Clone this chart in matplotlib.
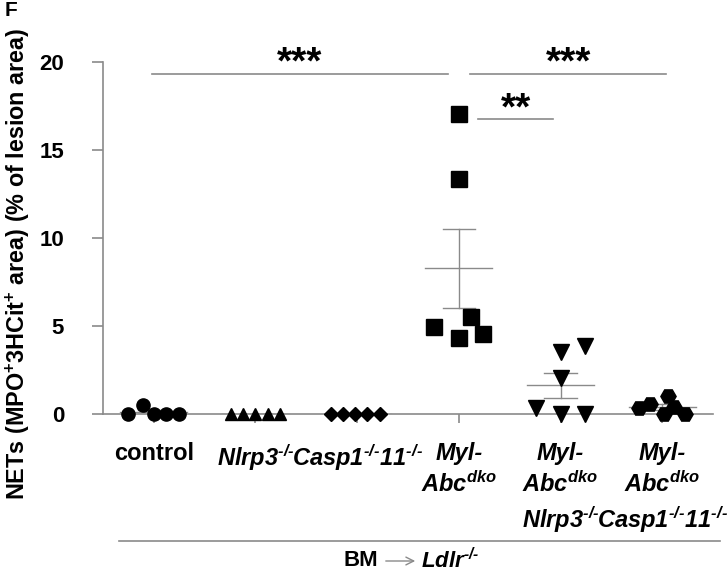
import matplotlib
matplotlib.use('Agg')
import matplotlib.pyplot as plt
import numpy as np
from matplotlib.lines import Line2D

plt.rcParams['font.family'] = ['Liberation Sans', 'DejaVu Sans']
plt.rcParams['font.weight'] = 'bold'
plt.rcParams['mathtext.fontset'] = 'custom'
plt.rcParams['mathtext.rm'] = 'Liberation Sans:bold:italic'
plt.rcParams['mathtext.it'] = 'Liberation Sans:bold:italic'
plt.rcParams['mathtext.bf'] = 'Liberation Sans:bold:italic'

KO = r'$^{\text{-/-}}$'

# data
labels = ['control',
          'Nlrp3' + KO,
          'Casp1' + KO + '11' + KO,
          'Myl-\nAbc$^{dko}$',
          'Myl-\nAbc$^{dko}$\nNlrp3' + KO,
          'Myl-\nAbc$^{dko}$\nCasp1' + KO + '11' + KO]
italic = [False, True, True, True, True, True]

control = [0, 0.5, 0, 0, 0]
nlrp3 = [0, 0, 0, 0, 0]
casp = [0, 0, 0, 0, 0]
myl = [17.05, 13.34, 4.96, 5.51, 4.34, 4.55]
myl_nlrp3 = [3.85, 3.52, 2.03, 0.36, 0, 0]
myl_casp = [0.32, 0.57, 1.02, 0.41, 0, 0]
groups = [control, nlrp3, casp, myl, myl_nlrp3, myl_casp]

# horizontal scatter of the points within each column
jitter = [[-0.25, -0.11, 0, 0.12, 0.25],
          [-0.24, -0.12, 0, 0.12, 0.24],
          [-0.26, -0.14, -0.02, 0.10, 0.22],
          [0, 0, -0.24, 0.12, 0, 0.24],
          [0.24, 0, 0, -0.24, 0, 0.24],
          [-0.23, -0.12, 0.06, 0.12, 0.02, 0.22]]

markers = ['o', '^', 'D', 's', 'v', 'H']
msizes = [9.5, 9, 7, 12, 11, 11]

# significance bars: (x start, x end, y, text)
sig = [(-0.02, 2.89, 19.32, '***'),
       (3.11, 5.04, 19.32, '***'),
       (3.19, 3.93, 16.76, '**')]

gray = '#8a8a8a'

fig = plt.figure(figsize=(7.28, 5.74), dpi=100)
ax = fig.add_axes([103/728, 1-414/574, 610/728, 352/574])

for i, vals in enumerate(groups):
    y = np.array(vals)
    x = i + np.array(jitter[i])
    m = y.mean()
    sem = y.std(ddof=1) / np.sqrt(len(y))
    ax.plot([i-0.33, i+0.33], [m, m], color=gray, lw=1, zorder=2)
    ax.plot([i, i], [m-sem, m+sem], color=gray, lw=1, zorder=2)
    ax.plot([i-0.16, i+0.16], [m+sem, m+sem], color=gray, lw=1, zorder=2)
    ax.plot([i-0.16, i+0.16], [m-sem, m-sem], color=gray, lw=1, zorder=2)
    ax.plot(x, y, ls='none', marker=markers[i], ms=msizes[i], color='black',
            mec='black', zorder=3, clip_on=False)

for x0, x1, yy, s in sig:
    ax.plot([x0, x1], [yy, yy], color=gray, lw=1.2, clip_on=False)
    ax.text((x0+x1)/2, yy, s, ha='center', va='baseline', fontsize=28,
            fontweight='bold', clip_on=False)

ax.set_xlim(-0.5, 5.5)
ax.set_ylim(0, 20)
ax.set_yticks([0, 5, 10, 15, 20])
ax.set_xticks(range(6))
ax.set_xticklabels(labels, linespacing=1.3)
for lab, it in zip(ax.get_xticklabels(), italic):
    if it:
        lab.set_fontstyle('italic')
ax.spines['top'].set_visible(False)
ax.spines['right'].set_visible(False)
for sp in ['left', 'bottom']:
    ax.spines[sp].set_color(gray)
    ax.spines[sp].set_linewidth(1.2)
ax.tick_params(axis='y', length=8, width=1.2, color=gray, pad=20, labelsize=16)
ax.tick_params(axis='x', length=6.5, width=1.2, color=gray, pad=14, labelsize=17)

fig.text(18/728, 1-264/574,
         r'NETs (MPO$^{\mathregular{+}}$3HCit$^{\mathregular{+}}$ area) (% of lesion area)',
         rotation=90, ha='center', va='center', fontsize=16.8, fontweight='bold')
fig.text(11/728, 1-11/574, 'F', ha='center', va='center', fontsize=15, fontweight='bold')

fig.add_artist(Line2D([119/728, 720/728], [1-541/574, 1-541/574], color=gray, lw=1.2))
fig.text(378/728, 1-561/574, 'BM', ha='right', va='center', fontsize=16, fontweight='bold')
fig.add_artist(matplotlib.patches.FancyArrowPatch((383/728, 1-561/574), (418/728, 1-561/574),
               transform=fig.transFigure, arrowstyle='->', color=gray, lw=1,
               mutation_scale=14))
fig.text(421/728, 1-561/574, 'Ldlr' + KO, ha='left', va='center', fontsize=16,
         fontweight='bold', fontstyle='italic')

fig.savefig('out.png', dpi=100)
